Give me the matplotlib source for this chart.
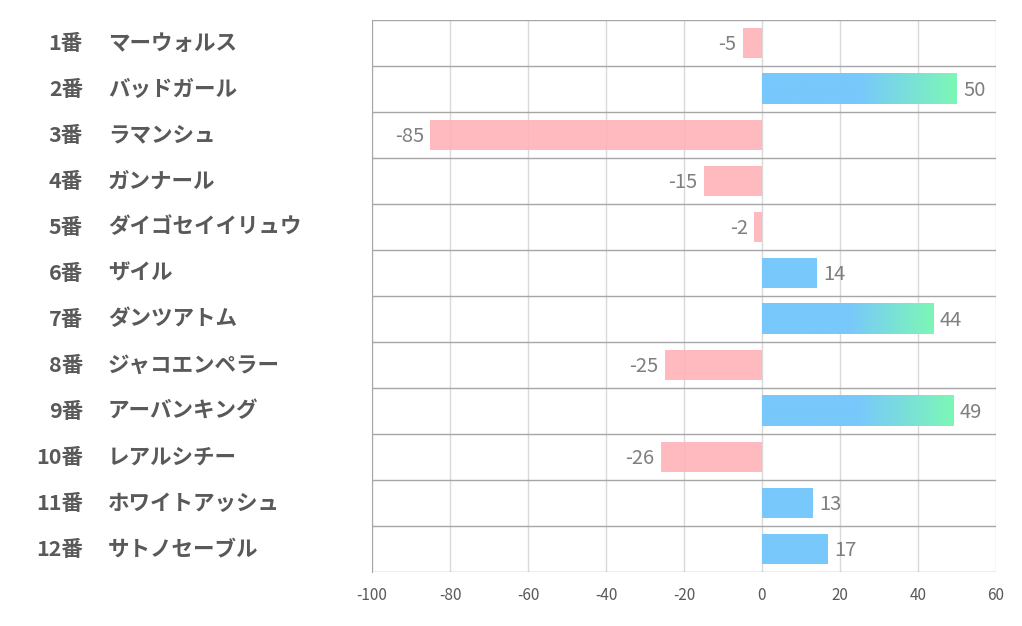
import numpy as np
import matplotlib
matplotlib.use('Agg')
from matplotlib import pyplot as plt
from matplotlib import transforms
from matplotlib.colors import to_rgb

plt.rcParams['font.family'] = ['Noto Sans CJK JP', 'DejaVu Sans']

numbers = ['1番', '2番', '3番', '4番', '5番', '6番',
           '7番', '8番', '9番', '10番', '11番', '12番']
horses = ['マーウォルス', 'バッドガール', 'ラマンシュ', 'ガンナール',
          'ダイゴセイイリュウ', 'ザイル', 'ダンツアトム', 'ジャコエンペラー',
          'アーバンキング', 'レアルシチー', 'ホワイトアッシュ', 'サトノセーブル']
values = [-5, 50, -85, -15, -2, 14, 44, -25, 49, -26, 13, 17]
xticks = [-100, -80, -60, -40, -20, 0, 20, 40, 60]

BLUE = '#78c8fc'
GREEN = '#7cf7b6'
PINK = '#ffb3b8'
BAR_H = 0.67

fig = plt.figure(figsize=(10.22, 6.26), dpi=100)
ax = fig.add_axes([372 / 1022, 54 / 626, 624 / 1022, 552 / 626])

y = np.arange(len(values))

# grid
for t in xticks:
    ax.axvline(t, color='#d9d9d9', lw=1, zorder=0)
for k in range(len(values) + 1):
    ax.axhline(k - 0.5, color='#a6a6a6', lw=1, zorder=3)

blue = np.array(to_rgb(BLUE))
green = np.array(to_rgb(GREEN))
for yi, v in zip(y, values):
    if v < 0:
        ax.barh(yi, v, height=BAR_H, color=PINK, alpha=0.9, zorder=2)
        ax.text(v - 1.6, yi + 0.03, str(v), ha='right', va='center',
                fontsize=14.5, color='#7f7f7f')
    else:
        if v > 30:
            # gradient bar: blue for the first half, fading to green
            t = np.linspace(0, 1, 200)
            w = np.clip((t - 0.5) / 0.5, 0, 1)[:, None]
            row = blue * (1 - w) + green * w
            img = row[None, :, :]
            ax.imshow(img, extent=[0, v, yi + BAR_H / 2, yi - BAR_H / 2],
                      aspect='auto', zorder=2, interpolation='bilinear')
        else:
            ax.barh(yi, v, height=BAR_H, color=BLUE, zorder=2)
        ax.text(v + 1.6, yi + 0.03, str(v), ha='left', va='center',
                fontsize=14.5, color='#7f7f7f')

ax.set_xlim(-100, 60)
ax.set_ylim(len(values) - 0.5, -0.5)
ax.set_yticks([])
ax.set_xticks(xticks)
ax.set_xticklabels([str(t) for t in xticks])
ax.tick_params(axis='x', length=0, pad=11, labelsize=11, labelcolor='#595959')
for s in ['top', 'right', 'bottom']:
    ax.spines[s].set_visible(False)
ax.spines['left'].set_color('#a6a6a6')

# row labels
trans = transforms.blended_transform_factory(fig.transFigure, ax.transData)
for yi, num, name in zip(y, numbers, horses):
    ax.text(83 / 1022, yi, num, transform=trans, ha='right', va='center',
            fontsize=15.5, fontweight='bold', color='#595959')
    ax.text(108 / 1022, yi, name, transform=trans, ha='left', va='center',
            fontsize=15.5, fontweight='bold', color='#595959')

fig.savefig('out.png', dpi=100)
